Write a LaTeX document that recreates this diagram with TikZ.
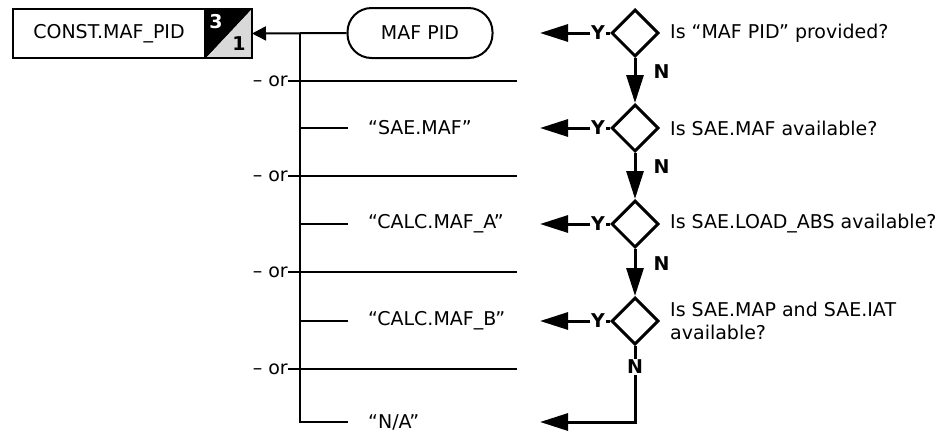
\documentclass[tikz,border=0pt]{standalone}
\usepackage{fontspec}
\setmainfont{DejaVu Sans}
\usepackage{xcolor}
\definecolor{badgegray}{HTML}{D9D9D9}
\usepackage{tikz}
\usetikzlibrary{arrows.meta,positioning,shapes.geometric}

\begin{document}
\begin{tikzpicture}[x=1pt, y=-1pt, >={Triangle[length=28pt,width=17pt]},
    font=\fontsize{19}{23}\selectfont,
    bus/.style={line width=2pt},
    flow/.style={line width=3pt},
    decide/.style={draw, diamond, line width=3pt, minimum size=47pt, inner sep=0pt},
    answer/.style={anchor=west, inner ysep=0pt, inner xsep=20pt},
    question/.style={anchor=west, align=left, inner sep=0pt},
    yn/.style={font=\fontsize{19}{23}\selectfont\bfseries, inner sep=1pt}]
    \def\xBus{300}
    \def\xStub{348}
    \def\xOr{517}
    \def\xTip{540}
    \def\xDec{635}
    \def\xAsk{670}
    \def\rA{33}
    \def\rB{128}
    \def\rC{224}
    \def\rD{321}
    \def\rE{422}
    
    \useasboundingbox (0,0) rectangle (942,432);
    
    % Output box with the 3/1 badge
    \node[draw, line width=2pt, minimum width=192pt, minimum height=49pt, anchor=north west, inner sep=0pt] (out) at (12,8) {CONST.MAF\_PID};
    \node[minimum width=46pt, minimum height=49pt, anchor=west, inner sep=0pt, outer sep=0pt] (badge) at (out.east) {};
    \fill (badge.north west) -- (badge.north east) -- (badge.south west) -- cycle;
    \fill[badgegray] (badge.north east) -- (badge.south east) -- (badge.south west) -- cycle;
    \draw[line width=2pt] (badge.north west) rectangle (badge.south east);
    \node[yn, white] (three) at (216,22) {3};
    \node[yn] (one) at (239,44) {1};
    
    % Values on the left
    \node[draw, line width=2pt, rounded corners=24pt, minimum width=145pt, minimum height=50pt, inner sep=0pt] (pid) at (420,\rA) {MAF PID};
    \node[answer] (sae) at (\xStub,\rB) {“SAE.MAF”};
    \node[answer] (calcA) at (\xStub,\rC) {“CALC.MAF\_A”};
    \node[answer] (calcB) at (\xStub,\rD) {“CALC.MAF\_B”};
    \node[answer] (na) at (\xStub,\rE) {“N/A”};
    
    % Bus collecting the values
    \coordinate (busA) at (\xBus,\rA);
    \coordinate (busB) at (\xBus,\rB);
    \coordinate (busC) at (\xBus,\rC);
    \coordinate (busD) at (\xBus,\rD);
    \coordinate (busE) at (\xBus,\rE);
    \draw[bus, -{Triangle[length=14pt,width=14pt]}] (pid.west) -- (badge.east);
    \draw[bus] (busA) -- (busE) -- (na.west);
    \draw[bus] (busB) -- (sae.west);
    \draw[bus] (busC) -- (calcA.west);
    \draw[bus] (busD) -- (calcB.west);
    
    % "or" separators
    \node[anchor=east, inner sep=0pt] (or1) at (288,81) {– or};
    \node[anchor=east, inner sep=0pt] (or2) at (288,176) {– or};
    \node[anchor=east, inner sep=0pt] (or3) at (288,272) {– or};
    \node[anchor=east, inner sep=0pt] (or4) at (288,369) {– or};
    \coordinate (orEnd1) at (\xOr,81);
    \coordinate (orEnd2) at (\xOr,176);
    \coordinate (orEnd3) at (\xOr,272);
    \coordinate (orEnd4) at (\xOr,369);
    \draw[bus] (or1.east) -- (orEnd1);
    \draw[bus] (or2.east) -- (orEnd2);
    \draw[bus] (or3.east) -- (orEnd3);
    \draw[bus] (or4.east) -- (orEnd4);
    
    % Decisions
    \node[decide] (d1) at (\xDec,\rA) {};
    \node[decide] (d2) at (\xDec,\rB) {};
    \node[decide] (d3) at (\xDec,\rC) {};
    \node[decide] (d4) at (\xDec,\rD) {};
    \node[question] (q1) at (\xAsk,\rA) {Is “MAF PID” provided?};
    \node[question] (q2) at (\xAsk,\rB) {Is SAE.MAF available?};
    \node[question] (q3) at (\xAsk,\rC) {Is SAE.LOAD\_ABS available?};
    \node[question] (q4) at (\xAsk,\rD) {Is SAE.MAP and SAE.IAT\\available?};
    
    % Yes branches
    \node[yn] (y1) at (598,\rA) {Y};
    \node[yn] (y2) at (598,\rB) {Y};
    \node[yn] (y3) at (598,\rC) {Y};
    \node[yn] (y4) at (598,\rD) {Y};
    \coordinate (tip1) at (\xTip,\rA);
    \coordinate (tip2) at (\xTip,\rB);
    \coordinate (tip3) at (\xTip,\rC);
    \coordinate (tip4) at (\xTip,\rD);
    \coordinate (tip5) at (\xTip,\rE);
    \draw[flow] (d1.west) -- (y1.east);
    \draw[flow] (d2.west) -- (y2.east);
    \draw[flow] (d3.west) -- (y3.east);
    \draw[flow] (d4.west) -- (y4.east);
    \draw[flow, ->] (y1.west) -- (tip1);
    \draw[flow, ->] (y2.west) -- (tip2);
    \draw[flow, ->] (y3.west) -- (tip3);
    \draw[flow, ->] (y4.west) -- (tip4);
    
    % No branches
    \draw[flow, ->] (d1.south) -- (d2.north) node[yn, pos=0.3, anchor=west, xshift=16pt] {N};
    \draw[flow, ->] (d2.south) -- (d3.north) node[yn, pos=0.3, anchor=west, xshift=16pt] {N};
    \draw[flow, ->] (d3.south) -- (d4.north) node[yn, pos=0.3, anchor=west, xshift=16pt] {N};
    \node[yn] (n4) at (\xDec,367) {N};
    \draw[flow] (d4.south) -- (n4.north);
    \draw[flow, ->] (n4.south) |- (tip5);
\end{tikzpicture}
\end{document}
